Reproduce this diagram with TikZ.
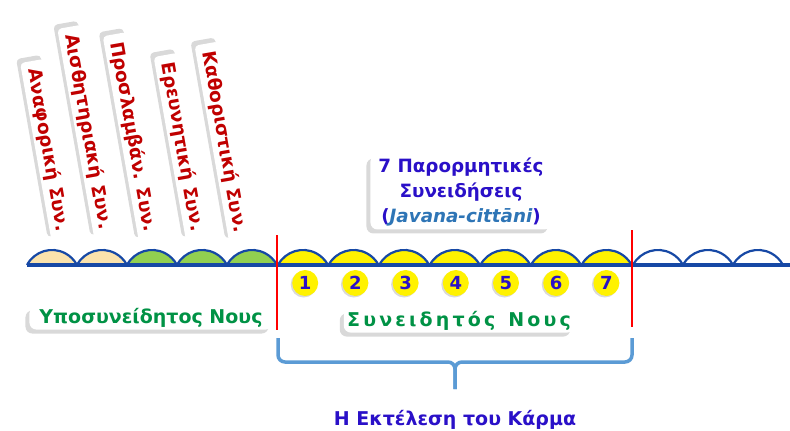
\documentclass[tikz,border=0pt]{standalone}
\usepackage{fontspec}
\setmainfont{DejaVu Sans}
\usetikzlibrary{positioning,shadows}
\definecolor{lineblue}{RGB}{22,72,165}
\definecolor{tanfill}{RGB}{250,226,172}
\definecolor{leafgreen}{RGB}{146,208,80}
\definecolor{labelred}{RGB}{192,0,0}
\definecolor{inkblue}{RGB}{42,16,200}
\definecolor{palipurple}{RGB}{46,117,182}
\definecolor{mindgreen}{RGB}{0,146,69}
\definecolor{bracecol}{RGB}{91,155,213}
\newcommand{\bigfont}{\bfseries\fontsize{19}{24}\selectfont}

\begin{document}
\begin{tikzpicture}[x=1pt, y=1pt,
    moment/.style={draw=lineblue, line width=2.2pt},
    vlabel/.style={rectangle, rounded corners=4pt, fill=white, rotate=-80,
        text=labelred, font=\bfseries\fontsize{18.5}{18.5}\selectfont,
        inner xsep=8pt, inner ysep=3pt,
        drop shadow={shadow xshift=-4pt, shadow yshift=4pt, opacity=0.3, fill=gray}},
    textbox/.style={rectangle, rounded corners=7pt, fill=white, align=center,
        drop shadow={shadow xshift=-4pt, shadow yshift=-4pt, opacity=0.3, fill=gray}},
    numdot/.style={circle, fill=yellow, minimum size=26pt, inner sep=0pt,
        text=inkblue, font=\bfseries\fontsize{18}{18}\selectfont,
        drop shadow={shadow xshift=-1.5pt, shadow yshift=-1.5pt, opacity=0.3, fill=gray}},
    border/.style={red, line width=2pt}
]
\useasboundingbox (0,-431) rectangle (790,0);

% subconscious moments
\foreach \x/\c in {27/tanfill,77/tanfill,127/leafgreen,177/leafgreen,227/leafgreen}
    \filldraw[moment, fill=\c] (\x,-265) arc[start angle=152, end angle=28, radius=28.3];
% javana moments
\foreach \i in {0,...,6}
    \filldraw[moment, fill=yellow] (278+50.6*\i,-265) arc[start angle=152, end angle=28, radius=28.3];
% following moments
\foreach \x in {633,683,733}
    \draw[moment] (\x,-265) arc[start angle=152, end angle=28, radius=28.3];
\draw[lineblue, line width=3.5pt] (27,-265) -- (790,-265);

% rotated labels
\node[vlabel] (anaf) at (48,-150) {Αναφορική Συν.};
\node[vlabel] (aisth) at (88,-132) {Αισθητηριακή Συν.};
\node[vlabel] (prosl) at (133,-137) {Προσλαμβάν. Συν.};
\node[vlabel] (ereun) at (182,-147) {Ερευνητική Συν.};
\node[vlabel] (kath) at (224,-142) {Καθοριστική Συν.};

% numbers
\foreach \i in {1,...,7}
    \node[numdot] (n\i) at (255+50.2*\i,-283) {\i};

% limits of the conscious part
\coordinate (lefttop) at (277,-235);
\coordinate (leftbot) at (277,-330);
\coordinate (righttop) at (632,-230);
\coordinate (rightbot) at (632,-327);
\draw[border] (lefttop) -- (leftbot);
\draw[border] (righttop) -- (rightbot);

\node[textbox, text=inkblue, font=\bfseries\fontsize{18.3}{25}\selectfont, inner xsep=8pt] (javana) at (461,-192)
    {7 Παρορμητικές\\Συνειδήσεις\\({\color{palipurple}\itshape Javana-cittāni})};
\node[textbox, text=mindgreen, font=\bigfont, inner ysep=2pt, inner xsep=10pt] (subc) at (151,-318) {Υποσυνείδητος Νους};
\node[textbox, text=mindgreen, font=\bigfont, inner ysep=2pt] (consc) at (459,-321)
    {Σ\,υ\,ν\,ε\,ι\,δ\,η\,τ\,ό\,ς\,\ \,Ν\,ο\,υ\,ς};

% brace
\coordinate (bl) at (278,-338);
\coordinate (br) at (632,-338);
\coordinate (bmid) at (455,-362);
\coordinate (btip) at (455,-389);
\draw[bracecol, line width=3.5pt, rounded corners=7pt] (bl) |- (bmid) -- (btip);
\draw[bracecol, line width=3.5pt, rounded corners=7pt] (br) |- (bmid) -- (btip);

\node[text=inkblue, font=\bigfont, below=18pt of btip] (karma) {Η Εκτέλεση του Κάρμα};
\end{tikzpicture}
\end{document}
